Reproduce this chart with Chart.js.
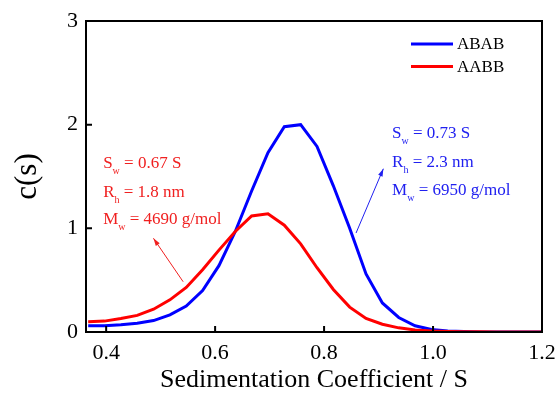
<!DOCTYPE html>
<html>
<head>
<meta charset="utf-8">
<script src="https://cdn.jsdelivr.net/npm/chart.js@4.4.1/dist/chart.umd.min.js"></script>
<style>
body{margin:0;background:#fff;}
</style>
</head>
<body>
<canvas id="sedChart" width="560" height="393"></canvas>
<script>
/* data */
const sValues=[0.367,0.397,0.427,0.457,0.487,0.517,0.547,0.577,0.607,0.637,0.667,0.697,0.727,0.757,0.787,0.817,0.847,0.877,0.907,0.937,0.967,0.997,1.027,1.057,1.087,1.117,1.147,1.177,1.207];
const abab=[0.06,0.06,0.07,0.085,0.11,0.165,0.25,0.40,0.64,0.97,1.36,1.73,1.98,2.00,1.79,1.41,1.00,0.56,0.28,0.14,0.06,0.025,0.01,0.005,0,0,0,0,0];
const aabb=[0.10,0.105,0.13,0.16,0.22,0.31,0.43,0.60,0.79,0.97,1.12,1.14,1.03,0.85,0.62,0.41,0.24,0.13,0.075,0.04,0.02,0.01,0.005,0.003,0.002,0.001,0,0,0];
const xTicks=[0.4,0.6,0.8,1.0,1.2];
const yTicks=[0,1,2,3];
const seriesNames=['ABAB','AABB'];

const BLUE='#0000ff';
const RED='#ff0000';
const serif='"Liberation Serif","Times New Roman",serif';

/* annotation text, placed in data units */
const redNote={x:0.3945,y:[1.582,1.305,1.042],color:'#f02020',
lines:[['S','w',' = 0.67 S'],['R','h',' = 1.8 nm'],['M','w',' = 4690 g/mol']],
arrow:[0.5413,0.485,0.4868,0.904]};
const blueNote={x:0.9248,y:[1.871,1.592,1.322],color:'#2020f0',
lines:[['S','w',' = 0.73 S'],['R','h',' = 2.3 nm'],['M','w',' = 6950 g/mol']],
arrow:[0.8587,0.955,0.9088,1.575]};

function pts(arr){
return sValues.map((x,i)=>({x:x,y:arr[i]}));
}

function drawNote(ctx,sx,sy,n){
ctx.fillStyle=n.color;
ctx.textBaseline='alphabetic';
ctx.textAlign='left';
n.lines.forEach((ln,i)=>{
let px=sx.getPixelForValue(n.x);
const py=sy.getPixelForValue(n.y[i]);
ctx.font='17px '+serif;
ctx.fillText(ln[0],px,py);
px+=ctx.measureText(ln[0]).width;
ctx.font='10px '+serif;
ctx.fillText(ln[1],px,py+6);
px+=ctx.measureText(ln[1]).width;
ctx.font='17px '+serif;
ctx.fillText(ln[2],px,py);
});
// arrow
const a=n.arrow;
const x1=sx.getPixelForValue(a[0]),y1=sy.getPixelForValue(a[1]);
const x2=sx.getPixelForValue(a[2]),y2=sy.getPixelForValue(a[3]);
ctx.strokeStyle=n.color;
ctx.lineWidth=1;
ctx.beginPath();
ctx.moveTo(x1,y1);
ctx.lineTo(x2,y2);
ctx.stroke();
const ang=Math.atan2(y2-y1,x2-x1);
const L=8,W=0.3;
ctx.beginPath();
ctx.moveTo(x2,y2);
ctx.lineTo(x2-L*Math.cos(ang-W),y2-L*Math.sin(ang-W));
ctx.lineTo(x2-L*Math.cos(ang+W),y2-L*Math.sin(ang+W));
ctx.closePath();
ctx.fill();
}

const framePlugin={
id:'framePlugin',
afterDatasetsDraw(chart){
const ctx=chart.ctx;
const a=chart.chartArea;
const sx=chart.scales.x,sy=chart.scales.y;
ctx.save();
ctx.strokeStyle='#000';
ctx.lineWidth=2;
ctx.strokeRect(a.left,a.top,a.right-a.left,a.bottom-a.top);
ctx.beginPath();
xTicks.forEach(v=>{
const p=sx.getPixelForValue(v);
ctx.moveTo(p,a.bottom);
ctx.lineTo(p,a.bottom-6);
});
yTicks.forEach(v=>{
const p=sy.getPixelForValue(v);
ctx.moveTo(a.left,p);
ctx.lineTo(a.left+6,p);
});
ctx.stroke();

// legend
const colors=[BLUE,RED];
seriesNames.forEach((name,i)=>{
const y=a.top+23+i*22.5;
ctx.strokeStyle=colors[i];
ctx.lineWidth=3;
ctx.beginPath();
ctx.moveTo(a.right-131,y);
ctx.lineTo(a.right-89,y);
ctx.stroke();
ctx.fillStyle='#000';
ctx.font='17px '+serif;
ctx.textBaseline='middle';
ctx.textAlign='left';
ctx.fillText(name,a.right-85,y+1);
});

drawNote(ctx,sx,sy,redNote);
drawNote(ctx,sx,sy,blueNote);
ctx.restore();
}
};

const ctx=document.getElementById('sedChart');

new Chart(ctx,{
type:'line',
data:{
datasets:[
{label:seriesNames[0],data:pts(abab),borderColor:BLUE,borderWidth:3,pointRadius:0,tension:0,order:2},
{label:seriesNames[1],data:pts(aabb),borderColor:RED,borderWidth:3,pointRadius:0,tension:0,order:1}
]
},
options:{
responsive:false,
animation:false,
devicePixelRatio:1,
layout:{padding:{left:0,top:21,right:18,bottom:0}},
plugins:{legend:{display:false},tooltip:{enabled:false}},
scales:{
x:{
type:'linear',
min:0.363,
max:1.2,
afterBuildTicks:s=>{s.ticks=xTicks.map(v=>({value:v}));},
afterFit:s=>{s.height=61;s.paddingLeft=0;s.paddingRight=0;},
grid:{display:false,drawTicks:false},
border:{display:false},
ticks:{color:'#000',font:{family:serif,size:22},padding:8,maxRotation:0,callback:v=>v.toFixed(1)},
title:{display:true,text:'Sedimentation Coefficient / S',color:'#000',font:{family:serif,size:26,lineHeight:1.0},padding:{top:0,bottom:0}}
},
y:{
min:0,
max:3,
afterBuildTicks:s=>{s.ticks=yTicks.map(v=>({value:v}));},
afterFit:s=>{s.width=86;s.paddingTop=0;s.paddingBottom=0;},
grid:{display:false,drawTicks:false},
border:{display:false},
ticks:{color:'#000',font:{family:serif,size:22},padding:8,callback:v=>String(v)},
title:{display:true,text:'c(s)',color:'#000',font:{family:serif,size:31},padding:{top:9,bottom:0}}
}
}
},
plugins:[framePlugin]
});
</script>
</body>
</html>
